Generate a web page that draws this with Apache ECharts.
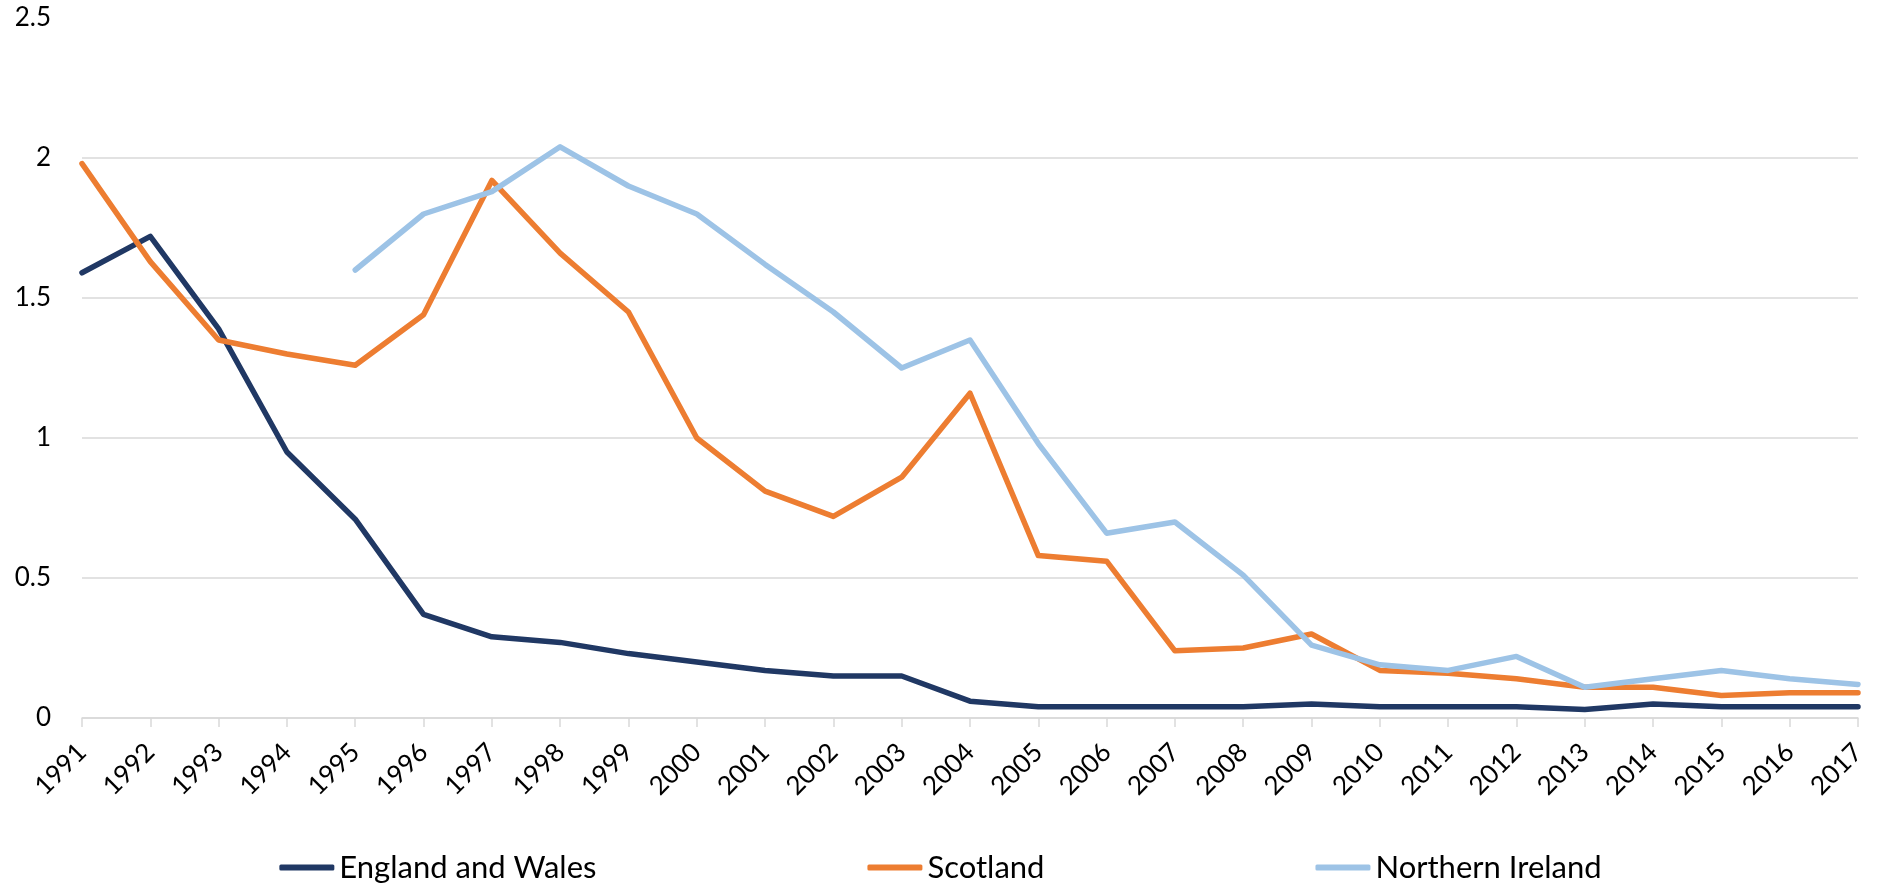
<!DOCTYPE html>
<html>
<head>
<meta charset="utf-8">
<title>Rates 1991–2017</title>
<script src="https://cdn.jsdelivr.net/npm/echarts@6/dist/echarts.min.js"></script>
<style>
  html, body { margin: 0; padding: 0; background: #ffffff; }
  #chart { width: 1881px; height: 883px; }
</style>
</head>
<body>
<div id="chart"></div>
<script>
// Years on the category axis
const years = ['1991','1992','1993','1994','1995','1996','1997','1998','1999','2000',
  '2001','2002','2003','2004','2005','2006','2007','2008','2009','2010',
  '2011','2012','2013','2014','2015','2016','2017'];

// Series values per year
const englandWales = [1.59, 1.72, 1.39, 0.95, 0.71, 0.37, 0.29, 0.27, 0.23, 0.20,
  0.17, 0.15, 0.15, 0.06, 0.04, 0.04, 0.04, 0.04, 0.05, 0.04,
  0.04, 0.04, 0.03, 0.05, 0.04, 0.04, 0.04];

const scotland = [1.98, 1.63, 1.35, 1.30, 1.26, 1.44, 1.92, 1.66, 1.45, 1.00,
  0.81, 0.72, 0.86, 1.16, 0.58, 0.56, 0.24, 0.25, 0.30, 0.17,
  0.16, 0.14, 0.11, 0.11, 0.08, 0.09, 0.09];

// Northern Ireland series starts in 1995
const northernIreland = [null, null, null, null, 1.60, 1.80, 1.88, 2.04, 1.90, 1.80,
  1.62, 1.45, 1.25, 1.35, 0.98, 0.66, 0.70, 0.51, 0.26, 0.19,
  0.17, 0.22, 0.11, 0.14, 0.17, 0.14, 0.12];

const seriesNames = ['England and Wales', 'Scotland', 'Northern Ireland'];
const seriesColors = ['#203864', '#ED7D31', '#9DC3E6'];

const FONT = 'Lato, "Open Sans", sans-serif';

function lineSeries(name, data, color) {
  return {
    name: name,
    type: 'line',
    data: data,
    symbol: 'none',
    connectNulls: false,
    color: color,
    lineStyle: { width: 5.5, color: color, cap: 'round', join: 'round' },
    emphasis: { disabled: true }
  };
}

const chart = echarts.init(document.getElementById('chart'));
chart.setOption({
  animation: false,
  backgroundColor: '#ffffff',
  grid: { left: 82, right: 23, top: 18, bottom: 165, containLabel: false },
  legend: {
    data: seriesNames,
    left: 'center',
    top: 847,
    icon: 'roundRect',
    itemWidth: 55,
    itemHeight: 6,
    itemGap: 271,
    textStyle: { fontFamily: FONT, fontSize: 31, color: '#000000' }
  },
  xAxis: {
    type: 'category',
    data: years,
    boundaryGap: false,
    axisLine: { show: true, lineStyle: { color: '#D9D9D9', width: 1.5 } },
    axisTick: { show: true, alignWithLabel: true, length: 9, lineStyle: { color: '#D9D9D9', width: 1.5 } },
    axisLabel: {
      interval: 0,
      rotate: 45,
      margin: 30,
      fontFamily: FONT,
      fontSize: 26,
      color: '#000000'
    },
    splitLine: { show: false }
  },
  yAxis: {
    type: 'value',
    min: 0,
    max: 2.5,
    interval: 0.5,
    axisLine: { show: false },
    axisTick: { show: false },
    axisLabel: {
      margin: 31,
      fontFamily: FONT,
      fontSize: 26,
      color: '#000000',
      formatter: function (v) { return String(v); }
    },
    splitLine: {
      show: true,
      lineStyle: {
        width: 1.5,
        // no gridline along the top value
        color: ['#D9D9D9', '#D9D9D9', '#D9D9D9', '#D9D9D9', '#D9D9D9', 'rgba(0,0,0,0)']
      }
    }
  },
  series: [
    lineSeries(seriesNames[0], englandWales, seriesColors[0]),
    lineSeries(seriesNames[1], scotland, seriesColors[1]),
    lineSeries(seriesNames[2], northernIreland, seriesColors[2])
  ]
});
</script>
</body>
</html>
